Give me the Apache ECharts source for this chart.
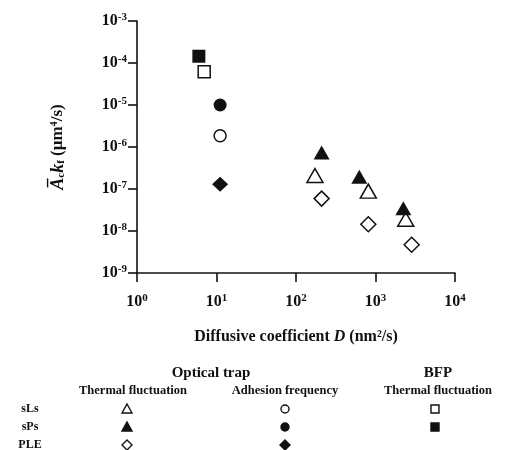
<!DOCTYPE html>
<html>
<head>
<meta charset="utf-8">
<script src="https://cdn.jsdelivr.net/npm/echarts@6/dist/echarts.min.js"></script>
<style>
  html, body { margin: 0; padding: 0; background: #fff; }
  #chart { width: 505px; height: 450px; }
</style>
</head>
<body>
<div id="chart"></div>
<script>
// diffusive coefficient D (nm^2/s) and Ac*kf (um^4/s)
const thermalSLsD = [173, 812, 2400];
const thermalSLsK = [2.1e-7, 8.9e-8, 1.9e-8];
const thermalSPsD = [210, 626, 2240];
const thermalSPsK = [7.4e-7, 1.95e-7, 3.5e-8];
const thermalPLED = [210, 812, 2850];
const thermalPLEK = [5.9e-8, 1.45e-8, 4.7e-9];
const adhesionD = [11.1];
const adhesionSLsK = [1.85e-6];
const adhesionSPsK = [1.0e-5];
const adhesionPLEK = [1.3e-7];
const bfpSLsD = [7.0];
const bfpSLsK = [6.2e-5];
const bfpSPsD = [6.0];
const bfpSPsK = [1.45e-4];

const rowLabels = ['sLs', 'sPs', 'PLE'];
const methodHeads = ['Optical trap', 'BFP'];
const subHeads = ['Thermal fluctuation', 'Adhesion frequency', 'Thermal fluctuation'];

const FONT = '"Liberation Serif", "Times New Roman", serif';
const INK = '#111';

const pts = (xs, ys) => ys.map((y, i) => [xs[i % xs.length], y]);
const open = { color: '#fff', borderColor: INK, borderWidth: 1.5, opacity: 1 };
const filled = { color: INK, opacity: 1 };

function expLabel(v) {
  const e = Math.round(Math.log10(v));
  return '{b|10}{s|' + e + '}';
}
const tickRich = {
  b: { fontFamily: FONT, fontWeight: 'bold', fontSize: 16, color: INK },
  s: { fontFamily: FONT, fontWeight: 'bold', fontSize: 11, color: INK, verticalAlign: 'top', padding: [0, 0, 7, 0] }
};

const chart = echarts.init(document.getElementById('chart'));

// legend table below the plot
const graphics = [];
const txt = (x, y, text, size) => graphics.push({
  type: 'text', x, y,
  style: { text, fontFamily: FONT, fontWeight: 'bold', fontSize: size, fill: INK, align: 'center', verticalAlign: 'middle' }
});
txt(211, 373, methodHeads[0], 15);
txt(438, 373, methodHeads[1], 15);
txt(133, 391, subHeads[0], 12.5);
txt(285, 391, subHeads[1], 12.5);
txt(438, 391, subHeads[2], 12.5);
const rowY = [409, 427, 445];
rowLabels.forEach((r, i) => txt(30, rowY[i], r, 12));

const tri = (cx, cy, fill) => graphics.push({
  type: 'polygon',
  shape: { points: [[cx, cy - 5], [cx + 5, cy + 4], [cx - 5, cy + 4]] },
  style: { fill, stroke: INK, lineWidth: 1.4 }
});
const circ = (cx, cy, fill) => graphics.push({
  type: 'circle', shape: { cx, cy, r: 4 }, style: { fill, stroke: INK, lineWidth: 1.4 }
});
const dia = (cx, cy, fill) => graphics.push({
  type: 'polygon',
  shape: { points: [[cx, cy - 5], [cx + 5, cy], [cx, cy + 5], [cx - 5, cy]] },
  style: { fill, stroke: INK, lineWidth: 1.4 }
});
const sq = (cx, cy, fill) => graphics.push({
  type: 'rect', shape: { x: cx - 4, y: cy - 4, width: 8, height: 8 }, style: { fill, stroke: INK, lineWidth: 1.4 }
});
tri(127, rowY[0], '#fff'); tri(127, rowY[1], INK); dia(127, rowY[2], '#fff');
circ(285, rowY[0], '#fff'); circ(285, rowY[1], INK); dia(285, rowY[2], INK);
sq(435, rowY[0], '#fff'); sq(435, rowY[1], INK);

chart.setOption({
  backgroundColor: '#fff',
  animation: false,
  grid: { left: 137, right: 50, top: 21, bottom: 177 },
  xAxis: {
    type: 'log', min: 1, max: 10000, logBase: 10,
    name: 'Diffusive coefficient {i|D} (nm²/s)',
    nameLocation: 'middle', nameGap: 56,
    nameTextStyle: {
      fontFamily: FONT, fontWeight: 'bold', fontSize: 16, color: INK,
      rich: { i: { fontFamily: FONT, fontWeight: 'bold', fontStyle: 'italic', fontSize: 16, color: INK } }
    },
    axisLine: { lineStyle: { color: INK, width: 1.6 } },
    axisTick: { length: 9, lineStyle: { color: INK, width: 1.6 } },
    minorTick: { show: false },
    splitLine: { show: false },
    axisLabel: { margin: 20, formatter: expLabel, rich: tickRich }
  },
  yAxis: {
    type: 'log', min: 1e-9, max: 1e-3, logBase: 10,
    name: '{i|A̅}{sub|c}{i|k}{sub|f} (μm⁴/s)',
    nameLocation: 'middle', nameGap: 70, nameRotate: 90,
    nameTextStyle: {
      fontFamily: FONT, fontWeight: 'bold', fontSize: 17, color: INK,
      rich: {
        i: { fontFamily: FONT, fontWeight: 'bold', fontStyle: 'italic', fontSize: 18, color: INK },
        sub: { fontFamily: FONT, fontWeight: 'bold', fontSize: 11, color: INK, verticalAlign: 'bottom' }
      }
    },
    axisLine: { lineStyle: { color: INK, width: 1.6 } },
    axisTick: { length: 9, lineStyle: { color: INK, width: 1.6 } },
    minorTick: { show: false },
    splitLine: { show: false },
    axisLabel: { margin: 10, formatter: expLabel, rich: tickRich }
  },
  graphic: graphics,
  series: [
    { name: 'sLs thermal', type: 'scatter', symbol: 'triangle', symbolSize: [16, 14], data: pts(thermalSLsD, thermalSLsK), itemStyle: open },
    { name: 'sPs thermal', type: 'scatter', symbol: 'triangle', symbolSize: [16, 14], data: pts(thermalSPsD, thermalSPsK), itemStyle: filled },
    { name: 'PLE thermal', type: 'scatter', symbol: 'diamond', symbolSize: [15, 15], data: pts(thermalPLED, thermalPLEK), itemStyle: open },
    { name: 'sLs adhesion', type: 'scatter', symbol: 'circle', symbolSize: 12, data: pts(adhesionD, adhesionSLsK), itemStyle: open },
    { name: 'sPs adhesion', type: 'scatter', symbol: 'circle', symbolSize: 13, data: pts(adhesionD, adhesionSPsK), itemStyle: filled },
    { name: 'PLE adhesion', type: 'scatter', symbol: 'diamond', symbolSize: [16, 15], data: pts(adhesionD, adhesionPLEK), itemStyle: filled },
    { name: 'sLs BFP', type: 'scatter', symbol: 'rect', symbolSize: 12, data: pts(bfpSLsD, bfpSLsK), itemStyle: open },
    { name: 'sPs BFP', type: 'scatter', symbol: 'rect', symbolSize: 13, data: pts(bfpSPsD, bfpSPsK), itemStyle: filled }
  ]
});
</script>
</body>
</html>
